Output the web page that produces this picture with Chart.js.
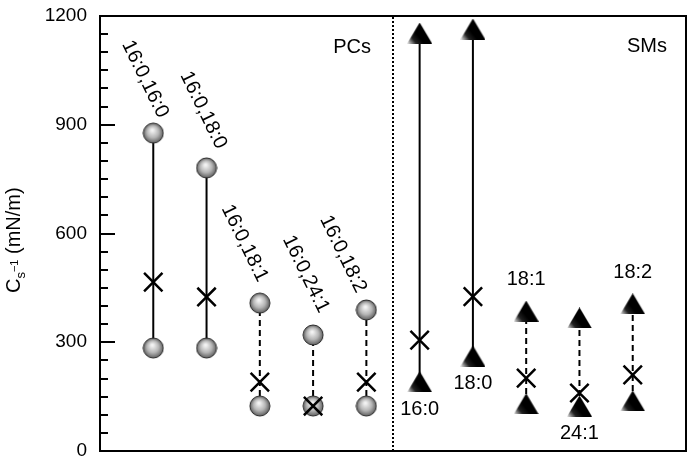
<!DOCTYPE html>
<html>
<head>
<meta charset="utf-8">
<script src="https://cdn.jsdelivr.net/npm/chart.js@4"></script>
<style>
  html, body { margin: 0; padding: 0; background: #fff; }
  #wrap { width: 692px; height: 464px; }
</style>
</head>
<body>
<div id="wrap"><canvas id="cs" width="692" height="464"></canvas></div>
<script>
// PC species (two chains), compressibility modulus range and mean
const pcLabels = ['16:0,16:0', '16:0,18:0', '16:0,18:1', '16:0,24:1', '16:0,18:2'];
const pcHigh = [877, 781, 408, 320, 389];
const pcLow = [284, 284, 124, 124, 124];
const pcMean = [466, 425, 190, 124, 190];

// SM species
const smLabels = ['16:0', '18:0', '18:1', '24:1', '18:2'];
const smHigh = [1153, 1164, 386, 367, 406];
const smLow = [191, 262, 130, 124, 138];
const smMean = [306, 426, 201, 160, 210];

const yTicks = [0, 300, 600, 900, 1200];
const groupNames = ['PCs', 'SMs'];

const FONT = "'Liberation Sans', Arial, Helvetica, sans-serif";

// x slot of each species: PCs first, then a gap line, then SMs
const pcX = pcLabels.map((_, i) => i + 1);
const smX = smLabels.map((_, i) => pcLabels.length + 1 + i);
const xMax = pcLabels.length + smLabels.length + 1;
const divideX = pcLabels.length + 0.5;

function makeSphere(r) {
  const c = document.createElement('canvas');
  const s = 2 * r + 2;
  c.width = s; c.height = s;
  const g = c.getContext('2d');
  const cx = s / 2, cy = s / 2;
  const grad = g.createRadialGradient(cx - 1, cy - 3, 1, cx, cy, r);
  grad.addColorStop(0, '#f2f2f2');
  grad.addColorStop(0.55, '#b5b5b5');
  grad.addColorStop(1, '#606060');
  g.beginPath();
  g.arc(cx, cy, r, 0, Math.PI * 2);
  g.fillStyle = grad;
  g.fill();
  g.lineWidth = 1;
  g.strokeStyle = '#2a2a2a';
  g.stroke();
  return c;
}

function makeTriangle(w, h) {
  const c = document.createElement('canvas');
  c.width = w; c.height = h;
  const g = c.getContext('2d');
  const grad = g.createLinearGradient(0, h, w * 0.42, h * 0.6);
  grad.addColorStop(0, '#f0f0f0');
  grad.addColorStop(0.55, '#202020');
  grad.addColorStop(1, '#000');
  g.beginPath();
  g.moveTo(w / 2, 0);
  g.lineTo(w, h);
  g.lineTo(0, h);
  g.closePath();
  g.fillStyle = grad;
  g.fill();
  return c;
}

const sphere = makeSphere(10);
const triangle = makeTriangle(25, 21);

const datasets = [];

// dotted separator between the two groups
datasets.push({
  data: [{ x: divideX, y: 0 }, { x: divideX, y: 1200 }],
  showLine: true, borderColor: '#000', borderWidth: 2, borderDash: [2, 2],
  pointRadius: 0, order: 5
});

// range lines: saturated species solid, unsaturated dashed
pcLabels.forEach((_, i) => {
  datasets.push({
    data: [{ x: pcX[i], y: pcLow[i] }, { x: pcX[i], y: pcHigh[i] }],
    showLine: true, borderColor: '#000', borderWidth: 2,
    borderDash: i < 2 ? [] : [6, 4], pointRadius: 0, order: 4
  });
});
smLabels.forEach((_, i) => {
  datasets.push({
    data: [{ x: smX[i], y: smLow[i] }, { x: smX[i], y: smHigh[i] }],
    showLine: true, borderColor: '#000', borderWidth: 2,
    borderDash: i < 2 ? [] : [6, 4], pointRadius: 0, order: 4
  });
});

datasets.push({
  data: pcX.flatMap((x, i) => [{ x, y: pcHigh[i] }, { x, y: pcLow[i] }]),
  pointStyle: sphere, pointRadius: 10, order: 3
});
datasets.push({
  data: smX.flatMap((x, i) => [{ x, y: smHigh[i] }, { x, y: smLow[i] }]),
  pointStyle: triangle, pointRadius: 10, order: 3
});
datasets.push({
  data: pcX.map((x, i) => ({ x, y: pcMean[i] })).concat(smX.map((x, i) => ({ x, y: smMean[i] }))),
  pointStyle: 'crossRot', pointRadius: 13, borderColor: '#000', borderWidth: 2.5, order: 1
});

const pcNudge = [[5, -14], [10, -18], [-2, -20], [6, -21], [-10, -16]];
const smAbove = [false, false, true, false, true];

const decor = {
  id: 'decor',
  afterDraw(chart) {
    const { ctx, chartArea: a, scales: { x, y } } = chart;
    ctx.save();
    ctx.fillStyle = '#000';
    // frame, as filled strips
    const L = Math.round(a.left), R = Math.round(a.right), T = Math.round(a.top), B = Math.round(a.bottom);
    ctx.fillRect(L - 1, T - 1, R - L + 2, 2);
    ctx.fillRect(L - 1, B - 1, R - L + 2, 2);
    ctx.fillRect(L - 1, T - 1, 2, B - T + 2);
    ctx.fillRect(R - 1, T - 1, 2, B - T + 2);
    // inward ticks
    for (let v = 0; v <= 1200; v += 50) {
      const py = Math.round(y.getPixelForValue(v));
      const len = v % 300 === 0 ? 15 : 8;
      ctx.fillRect(L, py - 1, len, 2);
    }
    ctx.font = '20px ' + FONT;
    // PC labels, rotated
    pcLabels.forEach((t, i) => {
      const px = x.getPixelForValue(pcX[i]) + pcNudge[i][0];
      const py = y.getPixelForValue(pcHigh[i]) + pcNudge[i][1];
      ctx.save();
      ctx.translate(px, py);
      ctx.rotate(64 * Math.PI / 180);
      ctx.textAlign = 'right';
      ctx.textBaseline = 'alphabetic';
      ctx.fillText(t, 0, 0);
      ctx.restore();
    });
    // SM labels
    ctx.textAlign = 'center';
    ctx.textBaseline = 'alphabetic';
    smLabels.forEach((t, i) => {
      const px = x.getPixelForValue(smX[i]);
      const py = smAbove[i] ? y.getPixelForValue(smHigh[i]) - 26 : y.getPixelForValue(smLow[i]) + 33;
      ctx.fillText(t, px, py);
    });
    // group names
    ctx.textAlign = 'right';
    ctx.fillText(groupNames[0], x.getPixelForValue(divideX) - 22, a.top + 37);
    ctx.fillText(groupNames[1], a.right - 19, a.top + 36);
    // y title: C_s^-1 (mN/m)
    ctx.translate(20, 293);
    ctx.rotate(-Math.PI / 2);
    ctx.textAlign = 'left';
    ctx.font = '20px ' + FONT;
    ctx.fillText('C', 0, 0);
    let cx = ctx.measureText('C').width;
    ctx.font = '13px ' + FONT;
    ctx.fillText('s', cx, 5);
    const sw = ctx.measureText('s').width;
    ctx.font = '11px ' + FONT;
    ctx.fillText('\u22121', cx + sw, -2);
    cx += sw + ctx.measureText('\u22121').width;
    ctx.font = '20px ' + FONT;
    ctx.fillText(' (mN/m)', cx, 0);
    ctx.restore();
  }
};

new Chart(document.getElementById('cs'), {
  type: 'scatter',
  data: { datasets },
  options: {
    responsive: false,
    animation: false,
    layout: { autoPadding: false, padding: { top: 16, right: 6, bottom: 13, left: 0 } },
    plugins: { legend: { display: false }, tooltip: { enabled: false } },
    scales: {
      x: { type: 'linear', min: 0, max: xMax, display: false },
      y: {
        min: 0, max: 1200,
        afterBuildTicks: s => { s.ticks = yTicks.map(v => ({ value: v })); },
        afterFit: s => { s.width = 100; s.paddingTop = 0; s.paddingBottom = 0; },
        grid: { display: false, drawTicks: false },
        border: { display: false },
        ticks: { color: '#000', font: { family: FONT, size: 19 }, padding: 13, callback: v => String(v) }
      }
    }
  },
  plugins: [decor]
});
</script>
</body>
</html>
